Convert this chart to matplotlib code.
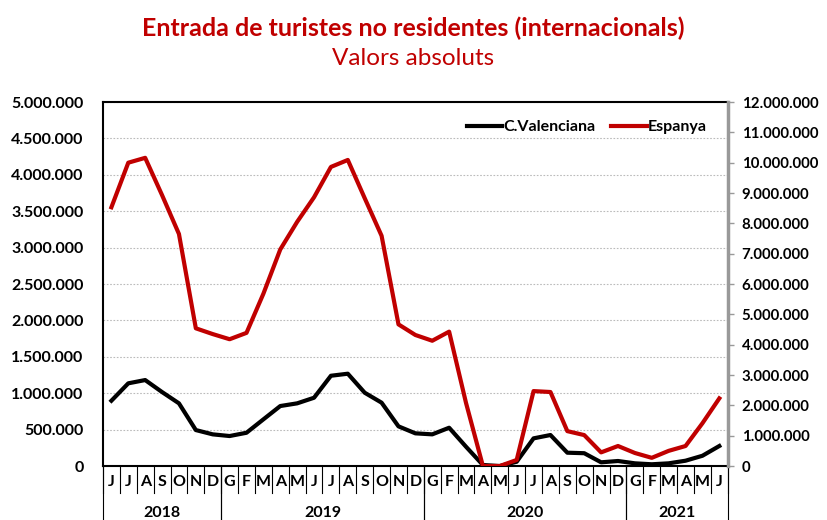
import matplotlib
matplotlib.use("Agg")
import matplotlib.pyplot as plt
from matplotlib.ticker import FuncFormatter, MultipleLocator

plt.rcParams['font.family'] = ['Lato', 'DejaVu Sans']

months = ["J", "J", "A", "S", "O", "N", "D",
          "G", "F", "M", "A", "M", "J", "J", "A", "S", "O", "N", "D",
          "G", "F", "M", "A", "M", "J", "J", "A", "S", "O", "N", "D",
          "G", "F", "M", "A", "M", "J"]
years = ["2018", "2019", "2020", "2021"]
year_counts = [7, 12, 12, 6]

cvalenciana = [897000, 1136000, 1181000, 1016000, 861000, 494000, 435000,
               412000, 457000, 641000, 824000, 861000, 938000, 1240000, 1268000, 1007000, 870000, 545000, 449000,
               435000, 526000, 265000, 14000, 0, 59000, 380000, 426000, 183000, 176000, 51000, 69000,
               37000, 24000, 37000, 73000, 141000, 275000]
espanya = [8530000, 10000000, 10160000, 8930000, 7650000, 4540000, 4350000,
           4180000, 4390000, 5680000, 7140000, 8050000, 8860000, 9860000, 10090000, 8830000, 7590000, 4670000, 4320000,
           4130000, 4430000, 2080000, 0, 0, 200000, 2470000, 2440000, 1150000, 1020000, 450000, 660000,
           430000, 270000, 500000, 660000, 1410000, 2230000]

def fmt(v, pos):
    return f"{int(v):,}".replace(",", ".")

fig = plt.figure(figsize=(8.27, 5.2), dpi=100)
ax = fig.add_axes([0.1245, 0.1038, 0.7555, 0.700])
ax2 = ax.twinx()

x = list(range(len(months)))
ax.plot(x, cvalenciana, color="#000000", lw=3, label="C.Valenciana", zorder=3)
ax2.plot(x, espanya, color="#C00000", lw=3, label="Espanya", zorder=3)

n = len(months)
ax.set_xlim(-0.5, n - 0.5)
ax.set_ylim(0, 5000000)
ax2.set_ylim(0, 12000000)
ax.yaxis.set_major_locator(MultipleLocator(500000))
ax2.yaxis.set_major_locator(MultipleLocator(1000000))
ax.yaxis.set_major_formatter(FuncFormatter(fmt))
ax2.yaxis.set_major_formatter(FuncFormatter(fmt))

ax.grid(axis="y", color="#BBBBBB", linestyle=(0, (1.5, 1.5)), lw=0.8)
ax.set_axisbelow(True)

for lab in ax.get_yticklabels():
    lab.set_fontweight("bold")
for lab in ax2.get_yticklabels():
    lab.set_fontweight("bold")
ax.tick_params(axis="y", length=0, labelsize=11.5, pad=14, colors="#000000")
ax2.tick_params(axis="y", length=4, width=1, color="#999999", labelsize=10.8, pad=6)

ax.set_xticks([])
for s in ["left", "top", "bottom"]:
    ax.spines[s].set_color("black")
    ax.spines[s].set_linewidth(1.5)
ax2.spines["right"].set_color("#999999")
ax2.spines["right"].set_linewidth(2.5)
for s in ["left", "top", "bottom"]:
    ax2.spines[s].set_visible(False)

# month labels and separators
trans = ax.get_xaxis_transform()
for i, m in enumerate(months):
    ax.text(i, -0.045, m, transform=trans, ha="center", va="center",
            fontsize=11.5, fontweight="bold", clip_on=False)
for i in range(n + 1):
    ax.plot([i - 0.5, i - 0.5], [0, -0.075], transform=trans, color="black",
            lw=0.8, clip_on=False)
start = 0
for yr, c in zip(years, year_counts):
    left = start - 0.5
    right = start + c - 0.5
    ax.plot([left, left], [0, -0.16], transform=trans, color="black", lw=0.8, clip_on=False)
    ax.plot([right, right], [0, -0.16], transform=trans, color="black", lw=0.8, clip_on=False)
    ax.text((left + right) / 2, -0.128, yr, transform=trans, ha="center", va="center",
            fontsize=11.5, fontweight="bold", clip_on=False)
    start += c

h1, l1 = ax.get_legend_handles_labels()
h2, l2 = ax2.get_legend_handles_labels()
leg = ax2.legend(h1 + h2, l1 + l2, loc="upper right", ncol=2, frameon=False,
                 prop={"weight": "bold", "size": 11.5}, handlelength=2.2,
                 handletextpad=0.1, columnspacing=1.0, bbox_to_anchor=(0.99, 0.99))

fig.text(0.5, 0.945, "Entrada de turistes no residentes (internacionals)", ha="center",
         va="center", fontsize=18, fontweight="bold", color="#C00000")
fig.text(0.5, 0.887, "Valors absoluts", ha="center", va="center", fontsize=17.5,
         color="#C00000")

fig.savefig("out.png", dpi=100)
